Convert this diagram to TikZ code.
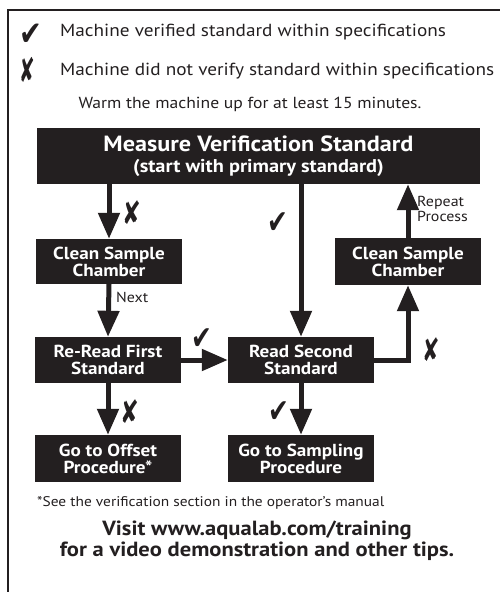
\documentclass[tikz,border=0pt]{standalone}
\usepackage{fontspec}
\setmainfont{PT Sans}[FakeStretch=1.1]
\newfontfamily\dejavu{DejaVu Sans}
\usetikzlibrary{arrows.meta}
\definecolor{ink}{HTML}{231F20}
\newcommand{\ckmark}[2]{{\dejavu\fontsize{#1}{#1}\selectfont\scalebox{#2}[1]{✔}}}
\newcommand{\xxmark}[2]{{\dejavu\fontsize{#1}{#1}\selectfont\scalebox{#2}[1]{✘}}}
\tikzset{
  box/.style={fill=ink, text=white, font=\bfseries\fontsize{17.4}{17}\selectfont, align=center, inner sep=0pt, minimum width=146pt},
  arr/.style={draw=ink, line width=5pt, -{Triangle[width=21pt,length=26pt]}, miter limit=10},
  lbl/.style={text=ink, inner sep=0pt},
}
\begin{document}
\begin{tikzpicture}[x=1pt,y=-1pt]
\useasboundingbox (0,0) rectangle (500,592);
\draw[ink, line width=2pt] (8,600) -- (8,10) -- (510,10);
% legend
\node[lbl] (lck) at (31,35) {\ckmark{34}{0.8}};
\node[lbl] (lx) at (27,70) {\xxmark{34}{0.55}};
\node[lbl, anchor=west, font=\fontsize{17.5}{20}\selectfont] (l1) at (60,32) {Machine verified standard within specifications};
\node[lbl, anchor=west, font=\fontsize{17.5}{20}\selectfont] (l2) at (60,71) {Machine did not verify standard within specifications};
\node[lbl, font=\fontsize{16}{18}\selectfont] (warm) at (250,104) {Warm the machine up for at least 15 minutes.};
% boxes
\node[box, minimum width=443pt, minimum height=56pt, font=\bfseries\fontsize{22}{21}\selectfont] (measure) at (258.5,156) {Measure Verification Standard\\{\fontsize{18.5}{18}\selectfont(start with primary standard)}};
\node[box, minimum height=45pt] (clean1) at (109,261.5) {Clean Sample\\Chamber};
\node[box, minimum height=47pt] (clean2) at (408,261.5) {Clean Sample\\Chamber};
\node[box, minimum height=46pt] (reread) at (108,360) {Re-Read First\\Standard};
\node[box, minimum height=46pt] (read2) at (301,360) {Read Second\\Standard};
\node[box, minimum height=47pt] (offset) at (108,458.5) {Go to Offset\\Procedure*};
\node[box, minimum height=47pt] (sampling) at (301,458.5) {Go to Sampling\\Procedure};
% connectors
\draw[arr] (clean1.north |- measure.south) -- (clean1.north);
\draw[arr] (read2.north |- measure.south) -- (read2.north);
\draw[arr] (clean2.north) -- (clean2.north |- measure.south);
\draw[arr] (clean1.south) -- (reread.north);
\draw[arr] (reread.east) -- (read2.west);
\draw[arr] (read2.east) -- (clean2.south |- read2.east) -- (clean2.south);
\draw[arr] (reread.south) -- (offset.north);
\draw[arr] (read2.south) -- (sampling.north);
% labels
\node[lbl] (x1) at (132,213) {\xxmark{32}{0.7}};
\node[lbl] (c1) at (278,223) {\ckmark{33}{0.75}};
\node[lbl, anchor=west, font=\fontsize{14.5}{15}\selectfont, align=left] (rep) at (417,209) {Repeat\\Process};
\node[lbl, anchor=west, font=\fontsize{14.5}{15}\selectfont] (next) at (116,297) {Next};
\node[lbl] (c2) at (202,339) {\ckmark{33}{0.75}};
\node[lbl] (x2) at (431,350) {\xxmark{32}{0.65}};
\node[lbl] (x3) at (130,412) {\xxmark{32}{0.7}};
\node[lbl] (c3) at (279,412) {\ckmark{33}{0.75}};
% footer
\node[lbl, anchor=west, font=\fontsize{14}{16}\selectfont] (foot) at (37,503) {*See the verification section in the operator’s manual};
\node[lbl, font=\bfseries\fontsize{20.5}{21}\selectfont, align=center] (visit) at (257,541) {Visit www.aqualab.com/training\\for a video demonstration and other tips.};
\end{tikzpicture}
\end{document}
